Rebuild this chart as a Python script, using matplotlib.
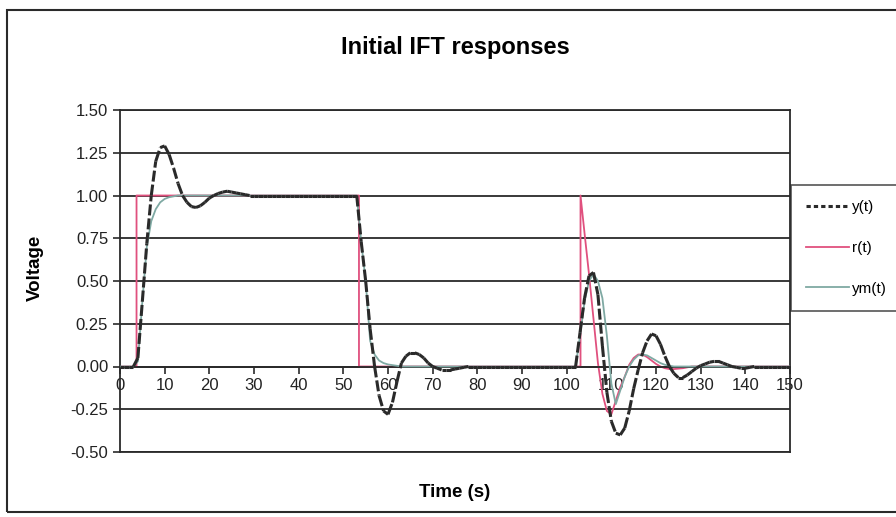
import numpy as np
import matplotlib
matplotlib.use("Agg")
import matplotlib.pyplot as plt
from matplotlib.collections import LineCollection
from matplotlib.patches import Rectangle

plt.rcParams['font.family'] = ['Liberation Sans', 'DejaVu Sans']

# time axis, one sample per second
time_s = np.arange(0, 151)

y_t = [
    0.0, 0.0, 0.0, 0.0,
    0.05, 0.38, 0.72, 1.00, 1.20, 1.28, 1.29, 1.24, 1.16, 1.07,
    1.00, 0.96, 0.935, 0.93, 0.94, 0.96, 0.985, 1.00, 1.012, 1.02,
    1.025, 1.02, 1.015, 1.01, 1.005, 1.0, 1.0, 1.0, 1.0, 1.0,
    1.0, 1.0, 1.0, 1.0, 1.0, 1.0, 1.0, 1.0, 1.0, 1.0,
    1.0, 1.0, 1.0, 1.0, 1.0, 1.0, 1.0, 1.0, 1.0, 1.0,
    0.73, 0.50, 0.22, 0.0, -0.17, -0.26, -0.28, -0.21, -0.09, 0.02,
    0.06, 0.08, 0.08, 0.07, 0.05, 0.02, 0.0, -0.01, -0.02, -0.02,
    -0.02, -0.015, -0.01, -0.005, 0.0, 0.0, 0.0, 0.0, 0.0, 0.0,
    0.0, 0.0, 0.0, 0.0, 0.0, 0.0, 0.0, 0.0, 0.0, 0.0,
    0.0, 0.0, 0.0, 0.0, 0.0, 0.0, 0.0, 0.0, 0.0,
    0.2, 0.4, 0.53, 0.55, 0.42, 0.12, -0.15, -0.32, -0.39, -0.40,
    -0.36, -0.26, -0.13, -0.02, 0.08, 0.15, 0.19, 0.18, 0.13, 0.06,
    0.0, -0.04, -0.065, -0.065, -0.05, -0.03, -0.01, 0.005, 0.015, 0.025,
    0.03, 0.03, 0.02, 0.01, 0.0, -0.005, -0.01, -0.01, -0.005, 0.0,
    0.0, 0.0, 0.0, 0.0, 0.0, 0.0, 0.0, 0.0,
]

ym_t = [
    0.0, 0.0, 0.0, 0.0,
    0.03, 0.38, 0.70, 0.85, 0.92, 0.96, 0.98, 0.99, 0.995, 1.0,
    1.0, 1.0, 1.0, 1.0, 1.0, 1.0, 1.0, 1.0, 1.0, 1.0,
    1.0, 1.0, 1.0, 1.0, 1.0, 1.0, 1.0, 1.0, 1.0, 1.0,
    1.0, 1.0, 1.0, 1.0, 1.0, 1.0, 1.0, 1.0, 1.0, 1.0,
    1.0, 1.0, 1.0, 1.0, 1.0, 1.0, 1.0, 1.0, 1.0, 1.0,
    0.73, 0.50, 0.15, 0.07, 0.035, 0.02, 0.012, 0.008, 0.004, 0.0,
    0.0, 0.0, 0.0, 0.0, 0.0, 0.0, 0.0, 0.0, 0.0, 0.0,
    0.0, 0.0, 0.0, 0.0, 0.0, 0.0, 0.0, 0.0, 0.0, 0.0,
    0.0, 0.0, 0.0, 0.0, 0.0, 0.0, 0.0, 0.0, 0.0, 0.0,
    0.0, 0.0, 0.0, 0.0, 0.0, 0.0, 0.0, 0.0, 0.0,
    0.18, 0.38, 0.50, 0.54, 0.50, 0.40, 0.18, -0.10, -0.22, -0.14,
    -0.06, 0.0, 0.04, 0.065, 0.07, 0.065, 0.05, 0.035, 0.02, 0.01,
    0.005, 0.0, 0.0, 0.0, 0.0, 0.0, 0.0, 0.0, 0.0, 0.0,
    0.0, 0.0, 0.0, 0.0, 0.0, 0.0, 0.0, 0.0, 0.0, 0.0,
    0.0, 0.0, 0.0, 0.0, 0.0, 0.0, 0.0, 0.0,
]

# reference signal, given at its own break points
r_time = [0, 3.7, 3.7, 53.5, 53.5, 103.1, 103.1, 104, 105, 106, 107, 108, 109,
          110, 111, 112, 113, 114, 115, 116, 117, 118, 119, 120, 121, 122, 123,
          124, 126, 128, 150]
r_val = [0, 0, 1, 1, 0, 0, 1.0, 0.78, 0.54, 0.28, 0.02, -0.16, -0.26,
         -0.28, -0.2, -0.12, -0.06, 0.01, 0.05, 0.07, 0.07, 0.055, 0.035, 0.015, 0.0, -0.01, -0.015,
         -0.015, -0.01, 0.0, 0.0]

x_ticks = np.arange(0, 151, 10)
y_ticks = np.arange(-0.5, 1.51, 0.25)

fig = plt.figure(figsize=(8.96, 5.17), dpi=100)
ax = fig.add_axes([120 / 896, 1 - 452 / 517, 670 / 896, 342 / 517])

dark = '#2a2a2a'
ym_col = '#7fa9a3'
r_col = '#e0507e'
y_dash = (0, (3.6, 1.0))

ax.plot(time_s, ym_t, color=ym_col, lw=1.3, label='ym(t)', zorder=3)
ax.plot(r_time, r_val, color=r_col, lw=1.3, label='r(t)', zorder=2)

# y(t): dash pattern restarts on every sample segment (like the old Excel chart)
pts = np.column_stack([time_s, y_t])
segs = np.stack([pts[:-1], pts[1:]], axis=1)
lc = LineCollection(segs, colors=dark, linewidths=2.2, linestyles=[y_dash],
                    capstyle='butt', zorder=4)
ax.add_collection(lc)
ax.plot([], [], color=dark, lw=2.2, ls=(0, (1.4, 1.0)), label='y(t)')

ax.set_xlim(0, 150)
ax.set_ylim(-0.5, 1.5)
ax.set_xticks(x_ticks)
ax.set_yticks(y_ticks)
ax.set_yticklabels([f'{v:.2f}' for v in y_ticks])
ax.yaxis.grid(True, color=dark, lw=1.3)
ax.set_axisbelow(True)
ax.axhline(-0.5, color=dark, lw=1.3, clip_on=False)

ax.spines['bottom'].set_position(('data', 0))
for s in ['left', 'right', 'top', 'bottom']:
    ax.spines[s].set_color(dark)
    ax.spines[s].set_linewidth(1.3)
ax.tick_params(axis='both', colors=dark, labelcolor='#222222', labelsize=12,
               direction='out', length=5, width=1.2)
ax.tick_params(axis='x', pad=3)

ax.set_xlabel('Time (s)', fontsize=13.5, fontweight='bold', labelpad=0)
ax.xaxis.set_label_coords(0.5, -0.095)
ax.set_ylabel('Voltage', fontsize=13.5, fontweight='bold')
ax.yaxis.set_label_coords(-0.113, 0.538)

fig.text(0.508, 0.909, 'Initial IFT responses', ha='center', va='center',
         fontsize=17, fontweight='bold')

handles, labels = ax.get_legend_handles_labels()
order = [labels.index('y(t)'), labels.index('r(t)'), labels.index('ym(t)')]
leg = fig.legend([handles[i] for i in order], [labels[i] for i in order],
                 loc='upper left', bbox_to_anchor=(791 / 896, 1 - 185 / 517),
                 fontsize=11, frameon=True, fancybox=False, handlelength=2.8,
                 handletextpad=0.2, labelspacing=1.75, borderaxespad=0, borderpad=1.0)
leg.get_frame().set_edgecolor(dark)
leg.get_frame().set_linewidth(1.2)

fig.add_artist(Rectangle((7 / 896, 1 - 512 / 517), 1.0, (512 - 10) / 517,
                         transform=fig.transFigure, fill=False, edgecolor=dark, lw=1.5))

fig.savefig('out.png', dpi=100, facecolor='white')
